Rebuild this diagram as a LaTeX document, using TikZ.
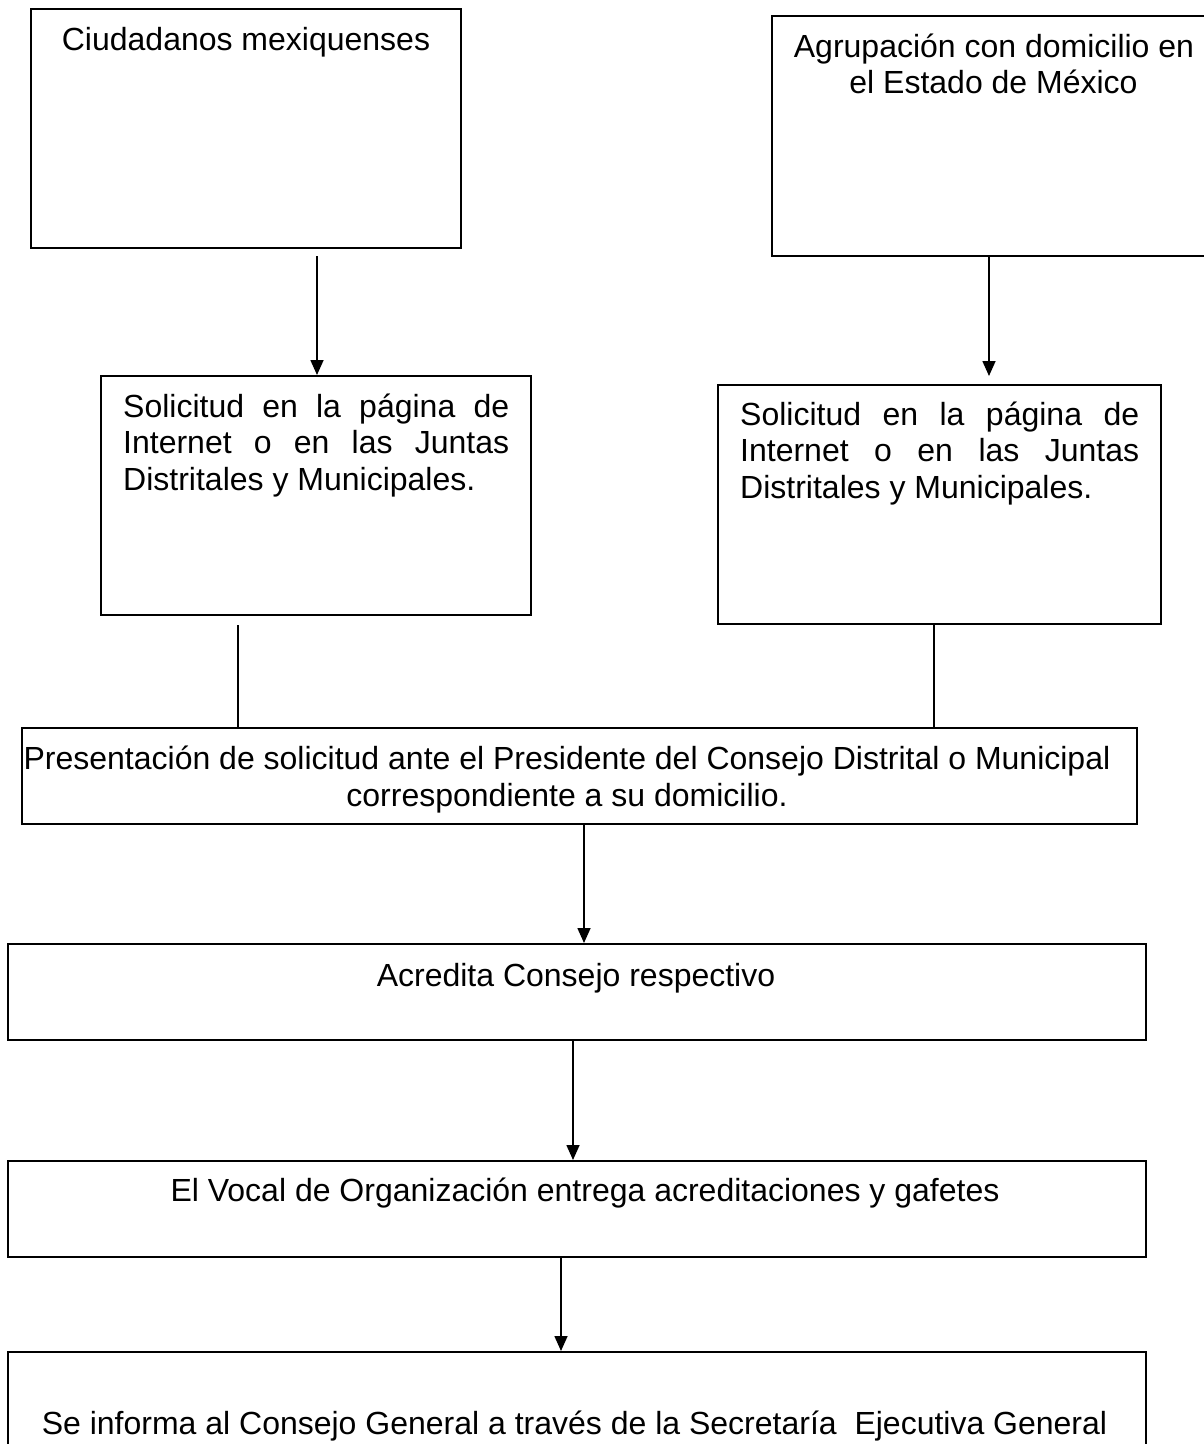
\documentclass[tikz,border=0pt]{standalone}
\usepackage{fontspec}
\setmainfont{Liberation Sans}
\usetikzlibrary{arrows.meta}
\tikzset{
  box/.style={draw=black, line width=2pt, inner sep=0pt, rectangle},
  txt/.style={inner sep=0pt, font=\fontsize{32}{36.8}\selectfont},
  conn/.style={draw=black, line width=1.6pt},
  arr/.style={conn, -{Triangle[length=15pt, width=13pt]}}
}
\begin{document}
\begin{tikzpicture}[x=1pt, y=-1pt]
\clip (0,0) rectangle (1204,1444);
\fill[white] (0,0) rectangle (1204,1444);

% boxes
\node[box, minimum width=430pt, minimum height=239pt] (b1) at (246,128.5) {};
\node[box, minimum width=442pt, minimum height=240pt] (b2) at (993,136) {};
\node[box, minimum width=430pt, minimum height=239pt] (b3) at (316,495.5) {};
\node[box, minimum width=443pt, minimum height=239pt] (b4) at (939.5,504.5) {};
\node[box, minimum width=1115pt, minimum height=96pt] (b5) at (579.5,776) {};
\node[box, minimum width=1138pt, minimum height=96pt] (b6) at (577,992) {};
\node[box, minimum width=1138pt, minimum height=96pt] (b7) at (577,1209) {};
\node[box, minimum width=1138pt, minimum height=118pt] (b8) at (577,1411) {};

% texts
\node[txt, anchor=base] (t1) at (246,50.5) {Ciudadanos mexiquenses};
\node[txt, anchor=base] (t2a) at (994,57.3) {Agrupación con domicilio en};
\node[txt, anchor=base] (t2b) at (993.5,93.3) {el Estado de México};

\node[txt, anchor=base west] (t3a) at (123,417) {\makebox[386pt][s]{Solicitud en la página de}};
\node[txt, anchor=base west] (t3b) at (123,453.5) {\makebox[386pt][s]{Internet o en las Juntas}};
\node[txt, anchor=base west] (t3c) at (123,490) {Distritales y Municipales.};

\node[txt, anchor=base west] (t4a) at (740,425) {\makebox[399pt][s]{Solicitud en la página de}};
\node[txt, anchor=base west] (t4b) at (740,461.5) {\makebox[399pt][s]{Internet o en las Juntas}};
\node[txt, anchor=base west] (t4c) at (740,498) {Distritales y Municipales.};

\node[txt, anchor=base] (t5a) at (567,769) {Presentación de solicitud ante el Presidente del Consejo Distrital o Municipal};
\node[txt, anchor=base] (t5b) at (567,806) {correspondiente a su domicilio.};

\node[txt, anchor=base] (t6) at (576,986) {Acredita Consejo respectivo};
\node[txt, anchor=base] (t7) at (585,1201) {El Vocal de Organización entrega acreditaciones y gafetes};
\node[txt, anchor=base] (t8) at (574.5,1434) {Se informa al Consejo General a través de la Secretaría~ Ejecutiva General};

% connectors
\coordinate (a1s) at (317,256);
\draw[arr] (a1s) -- (a1s |- b3.north);

\coordinate (a2e) at (989,376);
\draw[arr] (b2.south -| a2e) -- (a2e);

\coordinate (l1s) at (238,625);
\draw[conn] (l1s) -- (l1s |- b5.north);

\coordinate (l2x) at (934,0);
\draw[conn] (b4.south -| l2x) -- (b5.north -| l2x);

\coordinate (a3x) at (584,0);
\draw[arr] (b5.south -| a3x) -- (b6.north -| a3x);

\coordinate (a4x) at (573,0);
\draw[arr] (b6.south -| a4x) -- (b7.north -| a4x);

\coordinate (a5x) at (561,0);
\draw[arr] (b7.south -| a5x) -- (b8.north -| a5x);
\end{tikzpicture}
\end{document}
